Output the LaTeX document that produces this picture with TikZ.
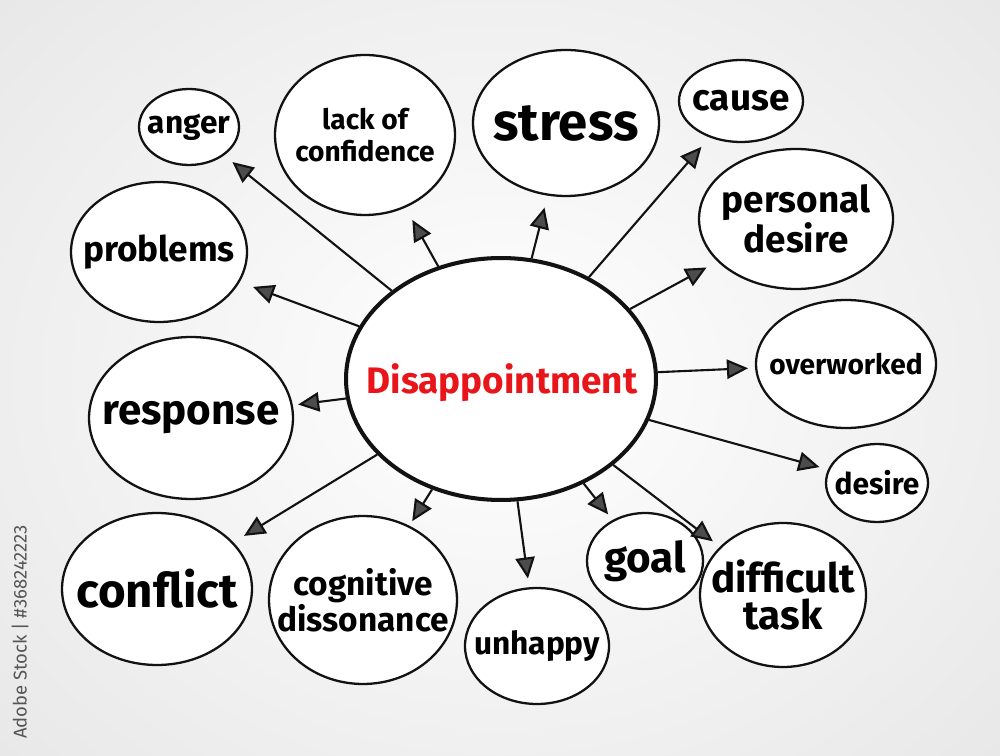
\documentclass[tikz,border=0pt]{standalone}
\usepackage{fontspec}
\setmainfont{Fira Sans}
\definecolor{mapred}{RGB}{232,22,26}
\definecolor{mapink}{RGB}{18,18,18}
\definecolor{stockgray}{RGB}{85,85,85}
\definecolor{papergray}{RGB}{232,232,232}
\usetikzlibrary{shapes.geometric,arrows.meta}

\begin{document}
\begin{tikzpicture}[x=0.02cm, y=-0.02cm, font=\bfseries,
    bubble/.style={ellipse, draw=mapink, line width=1.3pt, inner sep=0pt, fill=white},
    core/.style={ellipse, draw=mapink, line width=2.3pt, inner sep=0pt, fill=white},
    word/.style={font=\fontsize{#1}{#1}\selectfont\bfseries, align=center, inner sep=0pt},
    spoke/.style={-{Triangle[length=12pt, width=11pt, fill=black!70]},
                  draw=mapink, line width=1.2pt}]
    % Paper
    \useasboundingbox (0,0) rectangle (1000,756);
    \fill[papergray] (0,0) rectangle (1000,756);
    \begin{scope}
      \clip (0,0) rectangle (1000,756);
      \shade[inner color=white, outer color=papergray] (-180,-180) rectangle (1180,936);
    \end{scope}
    % Central idea
    \node[core, minimum width=6.2cm, minimum height=4.84cm] (disap) at (501,379) {};
    \node[font=\fontsize{21}{23}\selectfont\bfseries, text=mapred, inner sep=0pt]
      (disap-t) at (502,383) {Disappointment};
    % Bubbles, top row
    \node[bubble, minimum width=2.0cm, minimum height=1.52cm] (anger) at (189,127) {};
    \node[word=18] (anger-t) at (anger.center) {anger};
    \node[bubble, minimum width=3.6cm, minimum height=3.2cm] (confidence) at (365,135) {};
    \node[word=16, font=\fontsize{16}{18}\selectfont\bfseries] (confidence-t) at (confidence.center)
      {lack of\\confidence};
    \node[bubble, minimum width=3.72cm, minimum height=2.92cm] (stress) at (566,123) {};
    \node[word=30] (stress-t) at (stress.center) {stress};
    \node[bubble, minimum width=2.48cm, minimum height=1.64cm] (cause) at (741,101) {};
    \node[word=21] (cause-t) at (cause.center) {cause};
    % Bubbles, right side
    \node[bubble, minimum width=3.88cm, minimum height=2.8cm] (personal) at (796,219) {};
    \node[word=21, font=\fontsize{21}{19}\selectfont\bfseries] (personal-t) at (personal.center)
      {personal\\desire};
    \node[bubble, minimum width=3.6cm, minimum height=2.56cm] (overworked) at (846,364) {};
    \node[word=16] (overworked-t) at (overworked.center) {overworked};
    \node[bubble, minimum width=2.04cm, minimum height=1.56cm] (desire) at (877,483) {};
    \node[word=17] (desire-t) at (desire.center) {desire};
    \node[bubble, minimum width=3.32cm, minimum height=2.88cm] (task) at (783,595) {};
    \node[word=23, font=\fontsize{23}{21}\selectfont\bfseries] (task-t) at (task.center)
      {difficult\\task};
    % Bubbles, bottom row
    \node[bubble, minimum width=2.32cm, minimum height=1.92cm] (goal) at (645,561) {};
    \node[word=24] (goal-t) at (goal.center) {goal};
    \node[bubble, minimum width=2.88cm, minimum height=2.32cm] (unhappy) at (537,646) {};
    \node[word=18] (unhappy-t) at (unhappy.center) {unhappy};
    \node[bubble, minimum width=3.76cm, minimum height=3.36cm] (dissonance) at (363,600) {};
    \node[word=19] (dissonance-t) at (dissonance.center) {cognitive\\dissonance};
    \node[bubble, minimum width=3.8cm, minimum height=3.04cm] (conflict) at (157,589) {};
    \node[word=27] (conflict-t) at (conflict.center) {conflict};
    % Bubbles, left side
    \node[bubble, minimum width=4.08cm, minimum height=3.24cm] (response) at (191,418) {};
    \node[word=24] (response-t) at (response.center) {response};
    \node[bubble, minimum width=3.52cm, minimum height=2.8cm] (problems) at (159,252) {};
    \node[word=20] (problems-t) at (problems.center) {problems};
    % Spokes
    \foreach \nm/\gap in {anger/6pt, confidence/8pt, stress/7pt, cause/7pt,
                          personal/7pt, problems/8pt, overworked/4pt, response/3pt,
                          desire/5pt, conflict/7pt, dissonance/3pt, unhappy/5pt,
                          goal/4pt, task/5pt}{
      \draw[spoke, shorten >=\gap] (disap) -- (\nm);
    }
    % Stock tag
    \node[rotate=90, font=\fontsize{10.5}{12}\selectfont, text=stockgray]
      (stock) at (20,632) {Adobe Stock | \#368242223};
\end{tikzpicture}
\end{document}
